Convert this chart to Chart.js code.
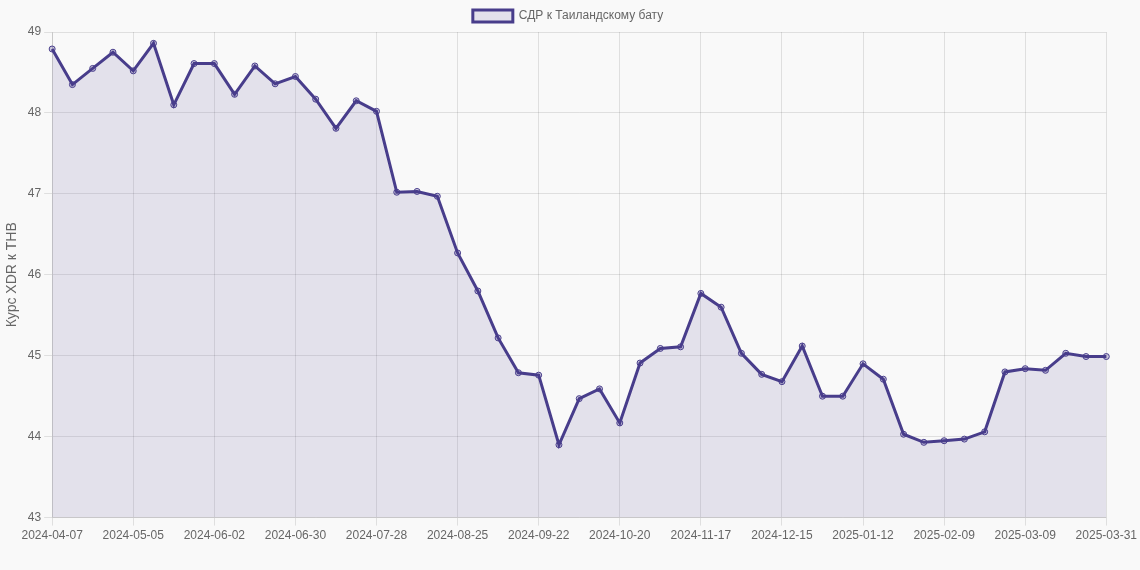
<!DOCTYPE html>
<html>
<head>
<meta charset="utf-8">
<script src="https://cdn.jsdelivr.net/npm/chart.js@4"></script>
<style>
  html, body { margin: 0; padding: 0; background: #f9f9f9; }
  #wrap { width: 1140px; height: 570px; }
</style>
</head>
<body>
<div id="wrap"><canvas id="chart"></canvas></div>
<script>
// weekly dates, last point is 2025-03-31
var labels = [
  '2024-04-07','2024-04-14','2024-04-21','2024-04-28','2024-05-05','2024-05-12','2024-05-19','2024-05-26',
  '2024-06-02','2024-06-09','2024-06-16','2024-06-23','2024-06-30','2024-07-07','2024-07-14','2024-07-21',
  '2024-07-28','2024-08-04','2024-08-11','2024-08-18','2024-08-25','2024-09-01','2024-09-08','2024-09-15',
  '2024-09-22','2024-09-29','2024-10-06','2024-10-13','2024-10-20','2024-10-27','2024-11-03','2024-11-10',
  '2024-11-17','2024-11-24','2024-12-01','2024-12-08','2024-12-15','2024-12-22','2024-12-29','2025-01-05',
  '2025-01-12','2025-01-19','2025-01-26','2025-02-02','2025-02-09','2025-02-16','2025-02-23','2025-03-02',
  '2025-03-09','2025-03-16','2025-03-23','2025-03-30','2025-03-31'
];
var rates = [
  48.79, 48.35, 48.55, 48.75, 48.52, 48.86, 48.10, 48.61,
  48.61, 48.23, 48.58, 48.36, 48.45, 48.17, 47.81, 48.15,
  48.02, 47.02, 47.03, 46.97, 46.27, 45.80, 45.22, 44.79,
  44.76, 43.90, 44.47, 44.59, 44.17, 44.91, 45.09, 45.11,
  45.77, 45.60, 45.03, 44.77, 44.68, 45.12, 44.50, 44.50,
  44.90, 44.71, 44.03, 43.93, 43.95, 43.97, 44.06, 44.80,
  44.84, 44.82, 45.03, 44.99, 44.99
];
var seriesName = 'СДР к Таиландскому бату';
var axisTitle = 'Курс XDR к THB';

Chart.defaults.font.family = 'Arial, "Liberation Sans", sans-serif';
Chart.defaults.color = '#666';

new Chart(document.getElementById('chart').getContext('2d'), {
  type: 'line',
  data: {
    labels: labels,
    datasets: [{
      label: seriesName,
      data: rates,
      borderColor: '#483d8b',
      backgroundColor: 'rgba(72,61,139,0.12)',
      borderWidth: 3,
      fill: true,
      tension: 0,
      pointRadius: 3,
      pointBackgroundColor: 'rgba(72,61,139,0.25)',
      pointBorderColor: '#483d8b',
      pointBorderWidth: 1
    }]
  },
  options: {
    responsive: true,
    maintainAspectRatio: false,
    animation: false,
    layout: { padding: { right: 4, bottom: 24 } },
    plugins: {
      legend: { position: 'top', labels: { boxWidth: 40, font: { size: 12 } } }
    },
    scales: {
      x: {
        grid: {
          color: function(c) { return c.index % 4 === 0 ? 'rgba(0,0,0,0.1)' : 'rgba(0,0,0,0)'; }
        },
        ticks: {
          autoSkip: false, maxRotation: 0, font: { size: 12 },
          callback: function(v, i) { return i % 4 === 0 ? labels[i] : ''; }
        }
      },
      y: {
        min: 43, max: 49,
        grid: { color: 'rgba(0,0,0,0.1)' },
        ticks: { stepSize: 1, font: { size: 12 } },
        title: { display: true, text: axisTitle, font: { size: 14 } }
      }
    }
  }
});
</script>
</body>
</html>
